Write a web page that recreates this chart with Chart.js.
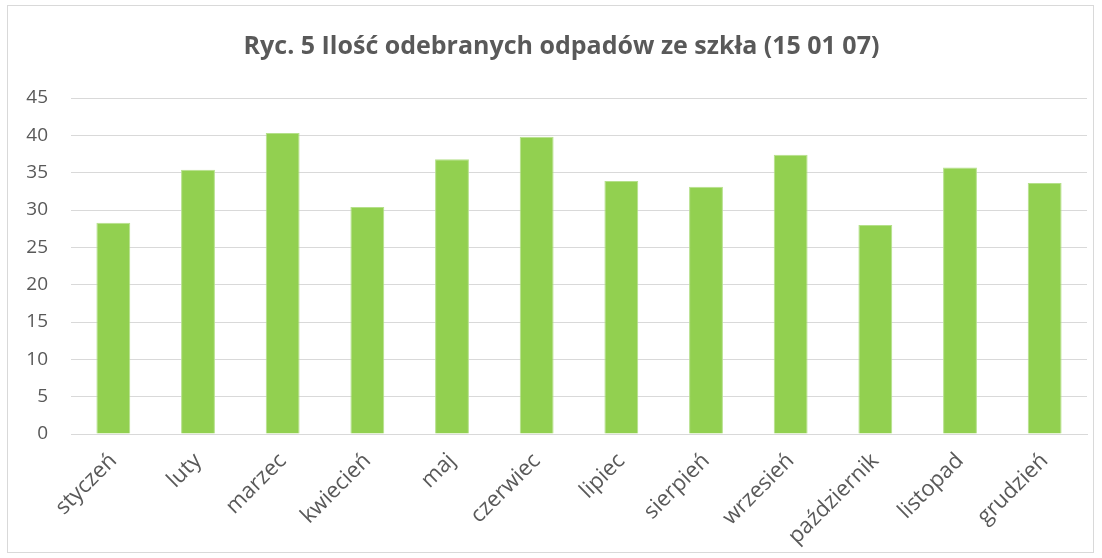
<!DOCTYPE html>
<html>
<head>
<meta charset="utf-8">
<script src="https://cdn.jsdelivr.net/npm/chart.js@4"></script>
<style>
  body { margin: 0; background: #fff; }
  #box { position: absolute; left: 7px; top: 5px; width: 1085px; height: 546px; border: 1px solid #d9d9d9; }
</style>
</head>
<body>
<div id="box"><canvas id="chart" width="1085" height="546"></canvas></div>
<script>
const months = ["styczeń", "luty", "marzec", "kwiecień", "maj", "czerwiec", "lipiec", "sierpień", "wrzesień", "październik", "listopad", "grudzień"];
const values = [28.3, 35.4, 40.3, 30.4, 36.8, 39.8, 33.9, 33.1, 37.4, 28.0, 35.7, 33.6];
const yTicks = [0, 5, 10, 15, 20, 25, 30, 35, 40, 45];

const textColor = '#595959';
const gridColor = '#d9d9d9';

// the title in the original sits a little right of the canvas centre
const titleShift = {
  id: 'titleShift',
  afterLayout(chart) {
    if (chart.titleBlock) chart.titleBlock.left += 28;
  }
};

const config = {
  type: 'bar',
  data: {
    labels: months,
    datasets: [{
      data: values,
      backgroundColor: '#92d050',
      borderColor: '#b5e08a',
      borderWidth: 1,
      barPercentage: 0.4,
      categoryPercentage: 1
    }]
  },
  options: {
    responsive: false,
    animation: false,
    layout: { padding: { left: 0, right: 6, top: 0, bottom: 0 } },
    plugins: {
      legend: { display: false },
      tooltip: { enabled: false },
      title: {
        display: true,
        text: 'Ryc. 5 Ilość odebranych odpadów ze szkła (15 01 07)',
        color: textColor,
        font: { family: 'Open Sans', size: 25, weight: 'bold' },
        padding: { top: 26, bottom: 36 }
      }
    },
    scales: {
      x: {
        grid: { display: false, drawTicks: false },
        border: { color: gridColor, width: 1 },
        ticks: {
          color: textColor,
          font: { family: 'Open Sans', size: 22 },
          maxRotation: 45,
          minRotation: 45,
          labelOffset: 0,
          padding: 14
        },
        afterFit: function (scale) { scale.height = 118; }
      },
      y: {
        min: 0,
        max: 45,
        afterBuildTicks: function (scale) { scale.ticks = yTicks.map(v => ({ value: v })); },
        grid: { color: gridColor, lineWidth: 1, drawTicks: false },
        border: { display: false },
        ticks: {
          color: textColor,
          font: { family: 'Open Sans', size: 19 },
          padding: 23
        },
        afterFit: function (scale) { scale.width = 63; }
      }
    }
  },
  plugins: [titleShift]
};

new Chart(document.getElementById('chart'), config);
</script>
</body>
</html>
